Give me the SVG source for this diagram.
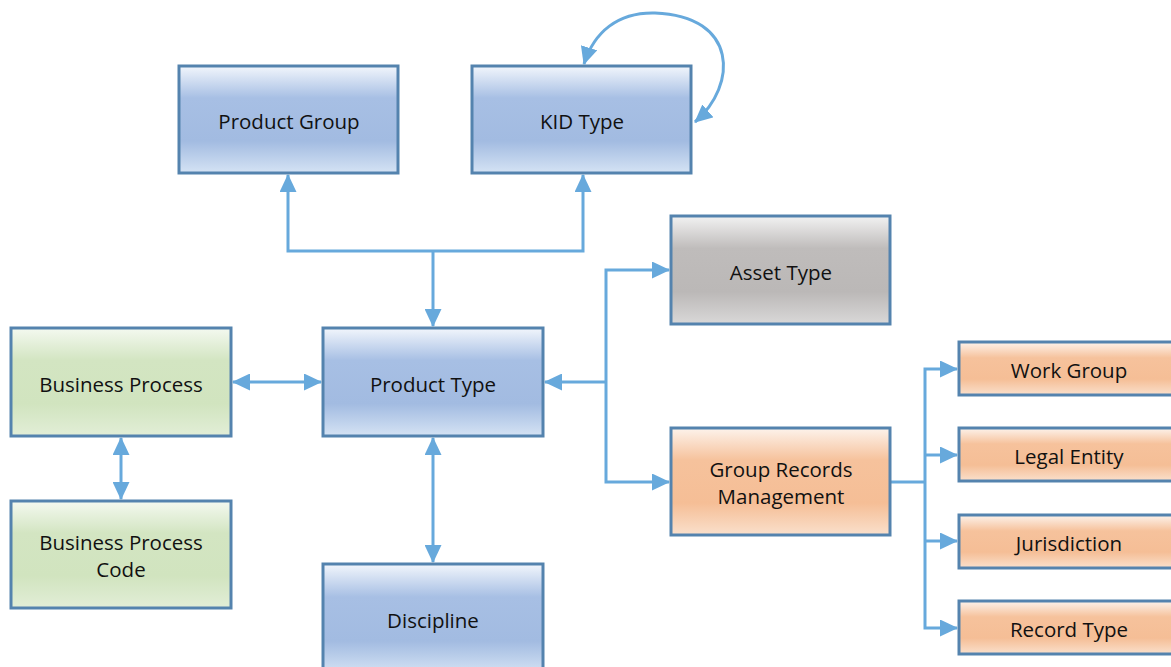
<svg xmlns="http://www.w3.org/2000/svg" width="1171" height="667" viewBox="0 0 1171 667">
<style>
.box{stroke:#5483ae;stroke-width:3}
.blue{fill:url(#gBlue)}
.green{fill:url(#gGreen)}
.gray{fill:url(#gGray)}
.orange{fill:url(#gOrange)}
.lbl{font-family:"Open Sans",Lato,"Liberation Sans",sans-serif;font-size:20.5px;fill:#111;text-anchor:middle;dominant-baseline:central}
.con{fill:none;stroke:#67a9dc;stroke-width:3}
</style>
<defs>
<linearGradient id="gBlue" x1="0" y1="0" x2="0" y2="1">
<stop offset="0" stop-color="#f2f6fc"/><stop offset="0.3" stop-color="#a7bfe4"/><stop offset="0.7" stop-color="#a2bbe1"/><stop offset="1" stop-color="#d5e3f4"/>
</linearGradient>
<linearGradient id="gGreen" x1="0" y1="0" x2="0" y2="1">
<stop offset="0" stop-color="#f4f9f0"/><stop offset="0.3" stop-color="#d3e5c2"/><stop offset="0.7" stop-color="#d1e4bf"/><stop offset="1" stop-color="#e2eed7"/>
</linearGradient>
<linearGradient id="gGray" x1="0" y1="0" x2="0" y2="1">
<stop offset="0" stop-color="#f2f2f2"/><stop offset="0.3" stop-color="#bfbcbb"/><stop offset="0.7" stop-color="#bbb8b7"/><stop offset="1" stop-color="#d9d8d8"/>
</linearGradient>
<linearGradient id="gOrange" x1="0" y1="0" x2="0" y2="1">
<stop offset="0" stop-color="#fdf3ec"/><stop offset="0.3" stop-color="#f6c29c"/><stop offset="0.7" stop-color="#f5be96"/><stop offset="1" stop-color="#fae0cc"/>
</linearGradient>
<marker id="arr" viewBox="0 0 18 17" refX="17" refY="8.5" markerWidth="18" markerHeight="17" markerUnits="userSpaceOnUse" orient="auto-start-reverse">
<path d="M0,0 L18,8.5 L0,17 z" fill="#67a9dc"/>
</marker>
</defs>

<g id="connectors">
<path class="con" d="M433,251 V326" marker-end="url(#arr)"/>
<path class="con" d="M288,175 V251 H583 V175" marker-start="url(#arr)" marker-end="url(#arr)"/>
<path class="con" d="M695,122 C738,85 738,16 655,13 C618,12 594,32 584,64" marker-start="url(#arr)" marker-end="url(#arr)"/>
<path class="con" d="M233,382 H321" marker-start="url(#arr)" marker-end="url(#arr)"/>
<path class="con" d="M121,438 V499" marker-start="url(#arr)" marker-end="url(#arr)"/>
<path class="con" d="M433,438 V562" marker-start="url(#arr)" marker-end="url(#arr)"/>
<path class="con" d="M606,382 H545" marker-end="url(#arr)"/>
<path class="con" d="M669,270 H606 V482 H669" marker-start="url(#arr)" marker-end="url(#arr)"/>
<path class="con" d="M891,482 H925"/>
<path class="con" d="M957,369 H925 V628 H957" marker-start="url(#arr)" marker-end="url(#arr)"/>
<path class="con" d="M925,455 H957" marker-end="url(#arr)"/>
<path class="con" d="M925,541 H957" marker-end="url(#arr)"/>
</g>

<g id="product-group"><rect class="box blue" x="179" y="66" width="219" height="107"/><text class="lbl" x="289" y="121">Product Group</text></g>
<g id="kid-type"><rect class="box blue" x="472" y="66" width="219" height="107"/><text class="lbl" x="582" y="121">KID Type</text></g>
<g id="asset-type"><rect class="box gray" x="671" y="216" width="219" height="108"/><text class="lbl" x="781" y="272">Asset Type</text></g>
<g id="business-process"><rect class="box green" x="11" y="328" width="220" height="108"/><text class="lbl" x="121" y="384">Business Process</text></g>
<g id="product-type"><rect class="box blue" x="323" y="328" width="220" height="108"/><text class="lbl" x="433" y="384">Product Type</text></g>
<g id="group-records-management"><rect class="box orange" x="671" y="428" width="219" height="107"/><text class="lbl" x="781" y="469">Group Records</text><text class="lbl" x="781" y="496">Management</text></g>
<g id="business-process-code"><rect class="box green" x="11" y="501" width="220" height="107"/><text class="lbl" x="121" y="542">Business Process</text><text class="lbl" x="121" y="569">Code</text></g>
<g id="discipline"><rect class="box blue" x="323" y="564" width="220" height="110"/><text class="lbl" x="433" y="620">Discipline</text></g>
<g id="work-group"><rect class="box orange" x="959" y="342" width="220" height="53"/><text class="lbl" x="1069" y="370">Work Group</text></g>
<g id="legal-entity"><rect class="box orange" x="959" y="428" width="220" height="53"/><text class="lbl" x="1069" y="456">Legal Entity</text></g>
<g id="jurisdiction"><rect class="box orange" x="959" y="515" width="220" height="53"/><text class="lbl" x="1069" y="543">Jurisdiction</text></g>
<g id="record-type"><rect class="box orange" x="959" y="601" width="220" height="53"/><text class="lbl" x="1069" y="629">Record Type</text></g>
</svg>
